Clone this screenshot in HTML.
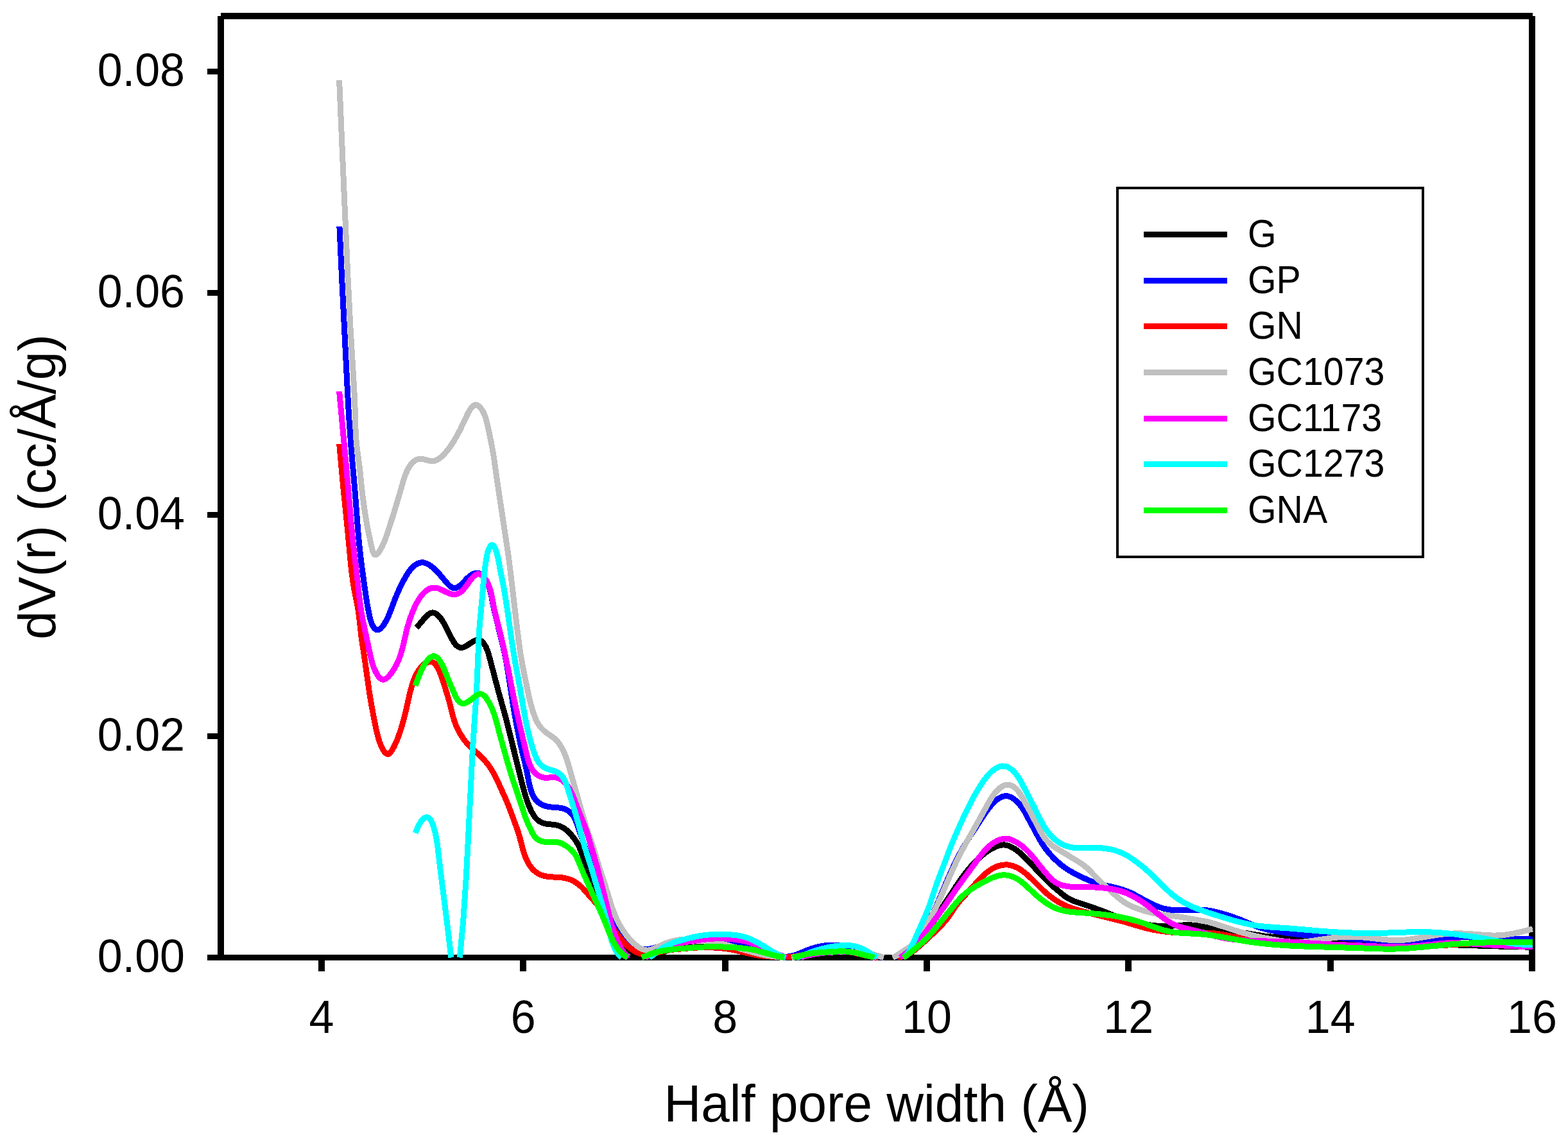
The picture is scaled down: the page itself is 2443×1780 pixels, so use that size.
<!DOCTYPE html>
<html lang="en">
<head>
<meta charset="utf-8">
<title>Pore size distribution</title>
<style>
html,body{margin:0;padding:0;background:#fff;}
body{width:2443px;height:1780px;overflow:hidden;}
svg{display:block;}
text{font-family:"Liberation Sans",Arial,Helvetica,sans-serif;fill:#000;}
.tick{font-size:70px;}
.leg{font-size:57.3px;}
.title{font-size:80px;}
</style>
</head>
<body>
<svg xmlns="http://www.w3.org/2000/svg" width="2443" height="1780" viewBox="0 0 2443 1780">
<defs><clipPath id="plotclip"><rect x="344" y="25" width="2060" height="1475"/></clipPath></defs>
<rect x="0" y="0" width="2443" height="1780" fill="#fff"/>
<g shape-rendering="crispEdges" fill="#000">
<rect x="344" y="20" width="2044" height="10"/>
<rect x="323" y="1488" width="2069" height="9"/>
<rect x="339" y="25" width="10" height="1472"/>
<rect x="2382" y="25" width="10" height="1489"/>
<rect x="323" y="1143" width="21" height="9"/>
<rect x="323" y="798" width="21" height="9"/>
<rect x="323" y="452" width="21" height="9"/>
<rect x="323" y="107" width="21" height="9"/>
<rect x="496" y="1497" width="10" height="17"/>
<rect x="810" y="1497" width="10" height="17"/>
<rect x="1125" y="1497" width="10" height="17"/>
<rect x="1439" y="1497" width="10" height="17"/>
<rect x="1753" y="1497" width="10" height="17"/>
<rect x="2068" y="1497" width="10" height="17"/>
</g>
<g clip-path="url(#plotclip)" fill="none" stroke-width="9" stroke-linejoin="round" stroke-linecap="butt" shape-rendering="crispEdges">
<path d="M648.9 978.4 661.5 963.6 664.3 960.6 666.6 958.5 669.2 956.5 671.6 955.4 674 954.9 676 955.1 678.7 956.2 681.4 958.1 684.5 961.2 687.5 964.9 690.4 969.4 693.9 975.5 703.4 994.5 706.2 999.6 708.2 1002.5 710.1 1004.8 712.1 1006.8 713.9 1008.1 715.9 1009 717.9 1009.4 720.1 1009.3 722.3 1008.7 724.6 1007.8 726.9 1006.6 735.1 1001.2 738.4 999.3 741.6 997.9 744.2 997.3 746.7 997.4 747.8 997.8 749.3 998.5 751.7 1000.5 754.1 1003.5 756.5 1007.3 758.4 1011.5 760.3 1016.4 762 1022.1 777.6 1081.4 788 1118.5 810.5 1209.3 816.2 1231.6 819.1 1241.7 821.9 1250.4 824.9 1258 827.8 1264.4 831.1 1270.1 834.2 1274.6 837.5 1278.1 840.9 1280.6 844.3 1282.3 847.9 1283.5 852.8 1284.4 862.3 1285.3 866.3 1286 871 1287.2 875.1 1288.9 879.7 1291.6 884 1295 888.6 1299.6 893.4 1305.4 896.7 1309.9 899.6 1314.6 902 1319 904.2 1324 908.3 1335.3 918 1366.4 924 1382.8 946.4 1437.5 951.4 1448.4 956.2 1457.3 960.3 1463.6 964.2 1468.7 968.3 1473 972.9 1476.7 977.9 1480.1 984.5 1483.6 996.8 1489.8 1000.5 1491.4 1003.7 1492.5M1018.1 1492.5 1022.4 1490.5 1031.9 1484.9 1036.3 1482.6 1041.8 1480.6 1048.1 1479.1 1058 1477.8 1082.1 1475.9 1096.6 1475.2 1111.6 1475 1126.6 1475.2 1140.1 1475.8 1152.6 1476.9 1164 1478.4 1171.9 1479.8 1179.2 1481.4 1186.4 1483.4 1207.1 1489.5 1214.4 1491.3 1220.6 1492.5M1251.8 1492.5 1261.1 1491.8 1271.1 1491.3 1296.6 1490.9 1317.6 1491.2 1343.9 1492.5M1407.7 1492.5 1410.6 1491.4 1413.2 1490 1416.1 1488.2 1418.8 1486.1 1421.3 1483.8 1424.1 1480.9 1429.5 1474.3 1433.6 1468.5 1440 1458.8 1474.3 1404.7 1489.7 1381.3 1496.2 1371.8 1502.1 1363.7 1507.6 1356.6 1513.1 1350.1 1520 1342.8 1526.9 1336.2 1533.4 1330.6 1540 1325.8 1546.6 1321.9 1552.7 1319.1 1557.9 1317.5 1560.8 1317.1 1563.2 1316.9 1565.6 1317 1568.5 1317.5 1571.3 1318.3 1574.5 1319.6 1577.6 1321.1 1581.1 1323.2 1584.4 1325.5 1588 1328.4 1593.3 1333.1 1599.5 1339.2 1623.4 1364.9 1634.3 1375.9 1642.9 1383.6 1654.4 1393.2 1659.5 1397.2 1664 1400.1 1668.9 1402.6 1674.8 1405.1 1697.6 1412.7 1711.3 1417.6 1721.6 1421.4 1740.2 1428.9 1748.1 1431.9 1754.3 1433.9 1761 1435.8 1768.3 1437.5 1776.7 1439.2 1786.6 1441 1795 1442.3 1802.5 1443.1 1809.4 1443.5 1820.9 1443.4 1847 1441.8 1853.4 1441.8 1858.9 1442.1 1867.3 1443.3 1893.9 1448.4 1907.7 1450.6 1940.5 1454.4 1963.7 1458.1 1972.1 1459.3 1983.5 1460.4 1999 1461.5 2029 1463.3 2049 1464.3 2137 1467.3 2271.9 1473 2321.9 1474.7 2387.9 1476.3" stroke="#000000"/>
<path d="M528.9 352.8 532.6 433.2 541.4 609.1 543.7 650.5 546.9 695.9 553.3 768.6 558.1 831.4 560.4 854.9 563.3 879.9 567.8 912.9 571.7 939.3 574.8 956 577.1 965.8 578.3 969.4 579.6 972.9 581.2 976 582.7 978.4 584.5 980.3 586 981.5 587.7 982 589.3 981.9 591.4 981 593.4 979.3 595.7 976.8 597.9 973.9 601.5 967.8 605.1 960.5 608.3 952.7 615 934.8 618.9 925.2 624.1 913.8 629.8 903 635.3 893.5 637.7 890.1 640.2 886.8 642.6 884.2 645.2 881.9 648 879.9 650.5 878.5 652.7 877.6 655 877 657.3 876.8 659.6 876.9 661.9 877.4 664.6 878.4 667.3 879.7 670.3 881.5 675.2 885.3 680.5 890.3 685.1 895.4 695.7 908 699.6 912.2 701.4 913.8 703.3 915.1 704.8 915.9 706.4 916.4 708.4 916.5 710.5 916.2 713 915.2 715.4 913.7 719.3 910.4 727.2 902.1 730.8 898.7 734.9 895.7 738.9 893.8 741.1 893.3 742.8 893.1 744.6 893.3 746.7 893.9 748.3 894.7 750.2 896.1 752 897.7 754.1 899.9 757 904.1 759.4 908.7 761.6 914 763.6 920.4 765.4 927.8 768.6 944.7 771.2 956.5 781.4 997.7 784.8 1012.3 787.6 1025.5 790.1 1038.8 800 1102.6 802.9 1119.3 806.3 1137.5 811.8 1163.9 819.7 1197 824.6 1222.2 826.5 1229.6 828.8 1236.3 831.6 1242.1 833.2 1244.6 835 1247 836.6 1248.7 838.8 1250.7 843.2 1253.6 848.2 1255.8 853.5 1257.2 859 1258 872.1 1259.1 876.1 1259.8 879.8 1261 883.8 1262.8 887.4 1265.2 890.5 1268.2 893.2 1271.7 896.1 1276.9 899.1 1284.3 908.5 1312 922.7 1351.5 936.5 1391.3 942.5 1407.2 948.2 1420.5 952.9 1430.4 958.2 1440.7 962.7 1448.5 967 1455.3 971.3 1460.9 975.7 1465.7 980.1 1469.8 985 1473.3 990.7 1476.5 993.9 1477.8 996.8 1478.7 999.7 1479.3 1002.6 1479.7 1005.5 1479.8 1008.5 1479.6 1013.4 1478.9 1018.8 1477.7 1037.1 1472.2 1047.8 1469.3 1057.1 1467.2 1065.9 1465.5 1076.8 1463.9 1086.8 1462.9 1096.3 1462.5 1105.3 1462.6 1113.2 1463.2 1121.2 1464.4 1129.5 1466 1141.7 1468.9 1151.3 1471.4 1160.9 1474.2 1201.1 1487 1210.4 1489.3 1218.8 1490.7 1223.2 1491.1 1227.7 1491 1231.6 1490.5 1235.4 1489.6 1242.5 1487.3 1257 1481.3 1263.6 1478.8 1269.8 1476.9 1275.6 1475.4 1281.5 1474.4 1287.5 1473.6 1294 1473.2 1300.5 1473.1 1307.5 1473.4 1314.4 1474.1 1321.3 1475.3 1327.7 1476.7 1336.3 1479.3 1358.4 1487.3 1374.2 1492.5M1393.1 1492.5 1396.1 1490.9 1400 1488.6 1421.6 1474 1424.2 1471.8 1426.6 1469.4 1429.2 1466.4 1431.5 1463.3 1435.5 1457 1441.2 1446.9 1448.1 1434.1 1455 1420.7 1461.4 1406.6 1475.8 1372 1484.2 1353.3 1489.8 1341.6 1495.1 1331.3 1500.3 1321.7 1505.7 1312.6 1513.1 1300.8 1532.5 1271 1538.3 1262.7 1543.7 1255.9 1549.7 1249.5 1552.8 1246.8 1555.6 1244.7 1558.6 1243 1561.3 1241.8 1564 1241 1566.8 1240.7 1569.1 1240.8 1571.9 1241.4 1574.6 1242.4 1577.7 1244.1 1580.6 1246.1 1583.3 1248.4 1586.2 1251.3 1588.9 1254.3 1592.6 1259.2 1596.4 1265.2 1620.9 1310.4 1624 1315.6 1627.6 1320.9 1634.4 1329.6 1641.8 1337.7 1649.9 1345.2 1654.1 1348.7 1658.5 1352 1666 1357 1673.9 1361.4 1685 1367 1695.5 1371.8 1702.5 1374.5 1709.2 1376.6 1715.9 1378.4 1739.3 1383.9 1747.5 1386.2 1754.6 1388.7 1761.1 1391.3 1766.9 1394.1 1785.3 1404.3 1795.1 1409.3 1804.3 1413.2 1812.4 1415.9 1816.7 1416.9 1821.2 1417.7 1826.1 1418.3 1831.1 1418.7 1843.6 1418.9 1864.1 1418.1 1870.6 1418 1878.6 1418.6 1887 1419.9 1893.8 1421.3 1901.6 1423.3 1910.8 1425.9 1919.3 1428.7 1931.5 1433.1 1949.1 1440.5 1956 1443.3 1964.1 1446.1 1972.2 1448.4 1983.4 1450.9 1997.3 1453.2 2018.6 1456 2036.5 1457.9 2070 1460.1 2101.3 1463.1 2119.3 1464.5 2144.7 1465.9 2172.7 1466.9 2186.2 1466.9 2200.2 1466.3 2214.7 1465 2249 1461.5 2259 1460.8 2268.5 1460.5 2277.5 1460.5 2287 1460.9 2318.9 1462.9 2330.9 1463.5 2342.4 1463.6 2371.4 1463.6 2387.9 1464.1" stroke="#0000FF"/>
<path d="M528.7 691.8 534.7 758.6 541.9 829.2 546.2 876.1 548.2 894 549.7 905.4 551.3 915.7 556.7 942.7 558.4 953 559.7 963 563.3 995.3 568.7 1030.9 575.1 1076.5 577.6 1092.3 580.3 1107.4 586.2 1137.1 588.6 1147.2 591 1155.5 594.2 1163.3 595.9 1166.9 597.5 1169.7 599.2 1172.2 600.7 1173.8 602.8 1175.2 604.5 1175.5 605.4 1175.2 606.6 1174.6 608.6 1172.7 611.1 1169 613.7 1164.2 617 1157.3 619.9 1150.3 624.4 1137.5 628.7 1122.8 632.4 1107.8 638.4 1081.2 641.1 1071 642.9 1065.1 644.8 1059.8 646.8 1054.9 648.9 1050.6 651.5 1046 654.6 1041.7 657.7 1038.2 661.2 1035.1 664.6 1033 668.1 1031.6 671 1031.3 672.2 1031.4 673.8 1031.9 675.3 1032.8 677 1034.1 678.6 1035.9 680.1 1037.8 683.2 1043.1 685.9 1049.4 692.6 1069.3 697.6 1085.1 700.5 1095.6 705.2 1114.6 707.6 1122.7 710.8 1131.6 712.7 1135.7 715 1140.2 718 1145.3 721.6 1150.8 725.2 1155.6 728.7 1159.8 734.6 1165.9 745.5 1175.5 749.9 1179.6 754.3 1184.3 758.5 1189.3 762.7 1194.9 766.7 1201.2 770.4 1207.7 774.3 1215.3 787.1 1243.6 792.9 1257.4 804.2 1287.9 807.2 1296.4 809.6 1304.5 814.6 1323.9 817.4 1332.6 819.2 1337.3 821.3 1341.9 823.4 1345.9 825.6 1349.3 829.2 1354 833.5 1358.1 835.8 1359.9 838.3 1361.5 843.2 1363.9 847.9 1365.3 853.2 1366.3 858.2 1366.8 873.4 1367.6 878.4 1368.3 883.2 1369.3 888.4 1370.9 892.9 1373 897.6 1375.7 902 1379 905.8 1382.3 909.3 1385.9 920.5 1398.7 930.3 1409.4 934.5 1414.3 937.7 1418.8 941 1423.8 949.8 1438.9 953.5 1444.8 959.6 1453.3 968 1464 972.6 1469.4 976.8 1473.7 980.9 1477.3 985.3 1480.6 988.3 1482.4 991.4 1484.1 997.5 1486.5 1000.3 1487.3 1003.2 1487.9 1006.2 1488.2 1009.1 1488.2 1012.6 1487.9 1016.5 1487.1 1030.5 1483.4 1035.9 1482.2 1042.3 1481 1049.2 1480.1 1068.7 1478.2 1084.2 1477.1 1095.7 1476.6 1106.7 1476.7 1120.6 1477.5 1134.1 1479.1 1145.9 1481.3 1169.2 1486.7 1179 1488.7 1190.4 1490.3 1203.4 1491.3 1218.4 1491.9 1224.4 1491.8 1230.4 1491.5 1239.8 1490.5 1256.1 1487.7 1266 1486.4 1300.4 1483.6 1312.4 1483.1 1319.9 1483.5 1327.3 1484.4 1333.2 1485.6 1350.1 1489.6 1368.8 1492.5M1398.8 1492.5 1406.8 1490.3 1411.9 1488.5 1417.3 1485.9 1422.3 1482.8 1427.5 1478.9 1434.3 1473 1457.6 1451.5 1466.8 1442.3 1474.3 1433.7 1479.1 1427.3 1489.7 1411.6 1493.3 1406.8 1497.8 1401.5 1525.3 1371.5 1530.2 1366.5 1535 1362.1 1538.9 1358.9 1543 1355.9 1546.9 1353.6 1550.9 1351.6 1554.6 1350.1 1558.5 1348.9 1562.4 1348.2 1566.3 1347.9 1569.3 1347.9 1572.2 1348.2 1575.1 1348.8 1578.5 1349.8 1584.5 1352.3 1587.5 1353.9 1590.9 1356.1 1596.6 1360.3 1602.7 1365.5 1608.6 1371.1 1624.9 1387.4 1630.1 1392.1 1635.1 1396.3 1641.5 1401.1 1647.8 1405.1 1654.3 1408.8 1661.1 1412 1667.1 1414.4 1673.7 1416.7 1691 1421.7 1743 1434.5 1753.6 1437.4 1775.2 1443.9 1784.3 1446.4 1796.5 1449.2 1808.4 1451.2 1822.8 1452.9 1838.8 1454 1851.3 1454.3 1877.8 1454.2 1885.3 1454.5 1892.2 1455 1899.2 1455.8 1907.1 1457 1937.1 1462.7 1951.4 1465.2 1964.2 1467.1 1977.1 1468.8 1994.6 1470.5 2013 1472 2033 1473 2055.5 1473.9 2146 1476.1 2168.5 1476.4 2188 1476.3 2204 1475.9 2221.5 1475.1 2283.9 1471.3 2309.4 1470.1 2342.4 1469.3 2387.9 1469" stroke="#FF0000"/>
<path d="M528.6 125 536.1 300.4 541.8 428.3 546 511.2 551.9 609.5 552.9 631 553.9 667.1 554.8 683.5 556.3 699 560.3 728.7 564.4 768.5 568.5 798.1 571.4 816.3 574.6 832.4 579.4 854.5 580.7 859.2 581.9 862.1 583.3 864.1 584.1 864.8 584.8 864.9 586.4 864.5 588.3 862.9 590.7 859.9 593.5 855.4 596 850.5 598.6 844.9 602.8 833.5 612.6 803 621.4 773.8 627.9 751.1 630 744.4 632.1 738.7 634.4 733.5 636.8 728.9 639.6 724.6 642.1 721.5 645 718.9 648.2 716.9 651.3 715.7 654 715.3 657.4 715.4 660.8 716 669.7 718.3 672.6 718.7 675 718.7 677.7 718.1 680.8 716.9 683.8 715.1 687 712.7 691.8 708.1 696.8 702.3 702 695.4 707.2 687.4 712.2 678.8 717.1 669.5 729.4 643.6 732 639.1 734.5 635.4 736 633.6 737.6 632.2 739.3 631.2 740.7 630.9 742.1 631 743.9 631.6 745.7 632.7 747.4 634.2 750.2 637.7 752.9 642.2 755.3 647.6 757.3 653.6 758.8 659.1 760.3 665.7 765.1 688.4 767.6 702.1 769.7 714.9 775 752.1 792.3 867.3 794.7 886.2 806.5 986 810.2 1013.8 812.4 1027.6 814.8 1040.4 823.6 1083.5 827 1097.6 830.1 1108.3 833.4 1117.8 836.1 1124.2 839.4 1129.7 843 1134.4 847.5 1138.9 851.8 1142.4 862.8 1150.2 865.8 1152.8 868.5 1155.6 871.8 1159.9 874.7 1164.5 877.5 1169.8 880.1 1175.8 882.9 1183.3 885.9 1192.9 906.8 1266.6 911.6 1282.9 915.2 1293.9 924.8 1322.3 933.5 1351 943.3 1380.9 951.6 1408.2 954.8 1417.7 958.3 1426.6 961.7 1434.3 965.4 1441.5 970 1449.2 974.8 1456.2 979.8 1462.5 985 1468.1 990.4 1472.9 995.3 1476.5 998 1478 1000.7 1479.3 1002.9 1480.1 1005.3 1480.7 1007.6 1481 1010 1481 1012.8 1480.6 1015.6 1479.8 1020.8 1477.8 1031.4 1472.7 1036.5 1470.5 1043.2 1468.2 1050.4 1466.2 1057.3 1465 1064.8 1464.2 1072.2 1463.9 1080.2 1464.2 1088.2 1464.8 1096.7 1465.8 1105.6 1467.2 1114.5 1468.8 1124.7 1471.1 1135.9 1473.9 1171 1483.8 1184.1 1487.1 1191 1488.6 1198.4 1489.8 1219.3 1492.5M1233.2 1492.5 1254.9 1488.2 1269.2 1486.1 1280.2 1485.1 1293.7 1484.2 1304.2 1483.7 1314.2 1483.5 1323.7 1483.7 1333.7 1484.2 1344.7 1485 1352.1 1485.8 1357.5 1486.8 1362.4 1488 1376.9 1492.5M1390.9 1492.5 1394.1 1491.1 1398 1488.8 1421.9 1473.1 1424.5 1470.9 1427.3 1468.2 1429.8 1465.2 1432.3 1461.6 1436.5 1454.8 1442.5 1444.3 1453.7 1423.6 1458.3 1414.7 1464.6 1401 1476.4 1373.4 1483.2 1357.9 1490.2 1342.9 1496.8 1329.5 1504.1 1315.8 1522.1 1284 1541 1249.7 1544.7 1243.5 1548.2 1238.5 1551.7 1234.1 1555.3 1230.5 1558.8 1227.6 1562.6 1225.2 1566.1 1223.8 1569.3 1223.3 1571.6 1223.4 1573.9 1223.8 1576.1 1224.6 1578.7 1225.9 1581.1 1227.6 1583.3 1229.6 1585.4 1231.8 1587.6 1234.6 1589.9 1238 1592.3 1242.1 1600.3 1256.9 1607.2 1269 1618.8 1291.7 1623 1299.2 1625.9 1303.8 1628.5 1307.4 1631.4 1310.8 1634.6 1313.9 1639.2 1317.7 1644.5 1321.4 1678 1341.7 1684.7 1346 1690.3 1350.2 1693.8 1353 1697 1356.1 1709.7 1369.5 1718.4 1377.8 1739.2 1396.6 1745 1401.4 1750.2 1405.3 1756.9 1409.5 1765 1413.4 1775.8 1417.5 1787.3 1421 1794.5 1422.8 1801.9 1424.2 1839.6 1429.3 1877.5 1436 1883.8 1437.4 1891 1439.4 1929.6 1451.9 1941.1 1455.2 1952.3 1458.1 1968.4 1461.6 1991.5 1465.8 2003.4 1467.5 2014.4 1468.4 2023.9 1468.5 2032.9 1467.9 2041.8 1466.8 2064.6 1463.3 2076 1461.8 2087.4 1460.6 2097.4 1460 2107.9 1460 2118.9 1460.5 2129.8 1461.5 2160.2 1464.9 2169.2 1465.5 2177.7 1465.7 2186.2 1465.3 2195.6 1464.3 2205.5 1462.9 2238.6 1457.3 2249.5 1455.9 2259.5 1455.1 2269 1454.9 2279 1455 2290.4 1455.7 2319.4 1457.9 2327.9 1458.1 2335.4 1457.9 2345.8 1457 2357.2 1455.2 2368.9 1452.7 2387.9 1448" stroke="#C0C0C0"/>
<path d="M528.6 610.1 540.5 738.6 548.6 832.3 550.6 851.1 555.8 894.3 560.8 939.1 562.8 952.9 565.2 966.2 575.9 1016.5 578.6 1028.2 580.6 1035.4 582.8 1041.9 585.3 1047.2 588.5 1052.7 590 1054.8 591.7 1056.5 593.4 1057.9 594.8 1058.7 596.6 1059.3 598 1059.2 599.5 1058.8 601.3 1057.9 603.1 1056.5 604.9 1054.9 609.3 1049.7 613.8 1043.1 616.7 1038.1 619.5 1032.4 622.2 1026.1 624.4 1019.7 627.7 1008 632.7 986.1 635.4 975.5 638.8 964.5 642.6 954.2 647.1 944 649.4 939.5 652 935.1 654.5 931.2 657.3 927.5 660 924.4 662.6 922 666.5 919 670.4 917.1 674.1 916.1 677.8 916 681.6 916.7 685.4 918 697.6 924 702.3 925.8 704.6 926.4 706.9 926.7 708.8 926.6 711.1 926.2 713.7 925.3 716.2 924 718.6 922.3 720.8 920.2 725.3 915 732.3 905.2 734.9 901.8 738.1 898.4 741 896.1 742.6 895.4 744.1 894.9 745.7 894.8 747.3 895.1 748.9 895.7 750.8 896.9 752.6 898.4 754.3 900.1 757.4 904.3 760.4 909.9 762.9 916.2 764.9 923.2 766.3 929.7 769.3 945.7 771.4 955.5 781.8 997.1 785.8 1014.7 791.2 1040.7 801 1090.2 808.3 1123.9 821.4 1179.3 823.1 1185.3 824.9 1190.6 827.5 1196.5 830.4 1201.1 834 1205.2 837.8 1208.2 840.3 1209.7 842.5 1210.7 844.8 1211.5 847.2 1212 851.6 1212.3 860.6 1211.6 864.1 1211.6 868.4 1212.3 872 1213.7 874.1 1214.9 876.5 1216.6 878.7 1218.5 881.1 1221 883.3 1223.7 885.4 1226.6 889.2 1233.2 893.4 1242.4 901.1 1263.1 910.5 1286.3 913.4 1294.3 916.2 1302.8 930.9 1353.2 943.1 1401.7 950.8 1433.3 953.7 1443.9 956.7 1453.4 959.2 1460 961.9 1466.6 965.1 1473.1 968.1 1478.7 970.9 1483.1 973.7 1486.7 976.8 1490 979.9 1492.5M1005.3 1492.5 1021.4 1483.6 1030 1479.5 1035.6 1477.2 1040.7 1475.3 1052.2 1471.9 1060 1470.1 1068.4 1468.5 1089.7 1465.2 1098.6 1464.1 1107.1 1463.3 1114.6 1462.9 1122.1 1462.7 1133.1 1463.1 1145 1464.3 1156.4 1466.1 1165.6 1468.3 1170.9 1469.9 1176.9 1472.2 1205.8 1484.9 1215.1 1488.6 1225.4 1492.5M1247.6 1492.5 1254 1490.5 1259.8 1489 1265.6 1487.7 1272 1486.6 1281.5 1485.4 1297.4 1483.7 1304.9 1483.1 1311.9 1482.9 1320.9 1483.4 1329.8 1484.6 1335.6 1485.9 1348.2 1489 1364.1 1492.5M1402.3 1492.5 1405.7 1490.4 1409.3 1487.7 1413.1 1484.5 1419 1479 1429.6 1468.3 1434.2 1463 1438.4 1458 1443.8 1450.9 1456.9 1432.6 1470 1414.9 1489.2 1386.8 1496.1 1377 1512.4 1354.9 1525.9 1336.1 1529.9 1330.9 1533.8 1326.3 1538 1321.9 1542.1 1318.1 1546.1 1315 1550.3 1312.2 1554.3 1310.1 1558.5 1308.5 1562.3 1307.5 1566.2 1307.1 1569.1 1307.2 1572.4 1307.8 1575.7 1308.9 1578.9 1310.3 1583 1312.4 1587.3 1315.1 1591.5 1318 1595.4 1321.1 1600.9 1326.3 1606.7 1332.5 1611.5 1338.4 1625.5 1356.2 1634.5 1366.4 1638.3 1370.3 1641.7 1373.2 1645.3 1375.7 1648.7 1377.6 1652.8 1379.2 1657.1 1380.4 1662 1381.4 1666.9 1382 1677 1382.5 1705.6 1383 1715.1 1383.6 1723.5 1384.4 1730.5 1385.4 1736.9 1386.6 1742.7 1388 1748.4 1389.7 1755 1392.1 1761.8 1395.3 1769.3 1399.3 1776.5 1403.7 1782.8 1407.9 1789.3 1412.6 1808.1 1427.5 1814.5 1432.3 1821.6 1437 1828.6 1440.8 1835.5 1443.6 1843.1 1446 1865 1451.4 1891 1458.6 1901.7 1461.1 1910.6 1462.7 1920 1464.1 1930.5 1465.1 1941.4 1465.9 1957.4 1466.6 2004.9 1467.8 2073.8 1472 2161.8 1475.7 2179.8 1475.9 2196.7 1475.3 2215.2 1473.8 2248 1470.3 2256 1469.8 2263.5 1469.7 2271.5 1469.8 2281 1470.2 2323.9 1473 2346.4 1474.2 2365.4 1475 2387.9 1475.7" stroke="#FF00FF"/>
<path d="M647.2 1298.4 651.5 1288.2 653.4 1284.4 655.3 1281.3 657.4 1278.4 659.4 1276.3 661.5 1274.8 663.3 1274 665.1 1273.7 666.8 1274.1 668.5 1275.2 670.2 1277 671.8 1279.3 673.4 1282.4 674.7 1285.9 676 1290.1 677.8 1297 679.3 1303.7 680.7 1311.3 681.9 1319.8 685.9 1354 698.1 1451.2 702.9 1492.5M716.4 1492.5 721.8 1434.6 726.1 1370.8 729.6 1304.9 736 1175.5 737.7 1147.5 741.3 1094.7 742.7 1072.2 743.9 1045.2 745.8 998.7 747.2 974.8 750.8 937.4 753.5 904.3 755.3 888.2 757.4 872.3 759.2 863 760.2 859.4 761.4 856.1 762.8 853.1 764.1 851 765.5 849.7 766.7 849.4 767.9 849.8 769.1 850.9 770.5 853 771.8 855.5 773 858.7 774.1 862.2 776.2 870.9 779.3 887.7 784.2 912.3 786.6 925.9 790.1 948.1 797.1 997.8 800.5 1019.5 802.9 1033.8 810 1071.6 816.7 1110.1 819.9 1126.8 822.9 1140.4 826.1 1153.1 829.8 1165.7 833.2 1175.8 835.9 1182.4 838.8 1187.5 840.5 1189.8 842.1 1191.6 843.8 1193.2 846.1 1195 850.3 1197.4 854.4 1199 864.8 1202.1 867.8 1203.5 870.7 1205.2 874 1207.9 876.4 1210.7 878.7 1214.4 880.9 1218.8 883.7 1226.5 895.9 1265.6 901 1283.4 910.5 1318.6 922 1354.9 940 1416.3 944.8 1433.6 950.5 1457 953.1 1466.3 956.3 1474.9 958 1478.6 959.9 1482.2 961.8 1485.1 963.9 1487.9 966.2 1490.5 968.4 1492.5M1011.6 1492.5 1016.8 1489 1028.4 1480.2 1034.3 1476.4 1038.6 1474 1043.2 1471.9 1048.2 1469.9 1053.5 1468 1062.1 1465.4 1072.3 1462.6 1081.1 1460.5 1089.4 1458.9 1096.8 1457.7 1104.8 1456.9 1112.8 1456.4 1120.8 1456.2 1134.8 1456.6 1146.3 1457.6 1151.3 1458.4 1156.1 1459.3 1160.5 1460.5 1164.7 1461.9 1172.1 1464.9 1180.2 1468.9 1187.1 1473 1202.5 1482.6 1210.4 1487 1217.7 1490.4 1224.1 1492.5M1241.3 1492.5 1247.9 1490.3 1260.6 1485.2 1266.8 1482.9 1274.4 1480.5 1282.2 1478.4 1291.5 1476.4 1300.8 1474.8 1309.8 1473.8 1317.8 1473.5 1323.8 1473.7 1329.7 1474.4 1335.1 1475.6 1339.8 1477.1 1344.3 1479.1 1349.2 1481.7 1367 1492.5M1408.8 1492.5 1411.4 1489.9 1413.8 1486.8 1416.1 1482.9 1419.2 1477.1 1425.7 1463.4 1442.7 1424.9 1445.8 1417.5 1448.5 1410 1457 1384.4 1460.7 1374 1481.2 1319.7 1487.9 1303.6 1497.4 1282.1 1504.8 1266.2 1511.7 1252.3 1519.2 1238.2 1526.4 1226.1 1532.8 1216.5 1539.2 1208.5 1542.3 1205.1 1545.3 1202.3 1548.4 1199.8 1551.3 1197.8 1554.4 1196.1 1557.1 1195 1559.9 1194.3 1562.7 1194 1565.5 1194.2 1568.3 1194.9 1570.9 1196 1573.9 1197.8 1576.7 1199.9 1579.7 1202.7 1582.4 1205.8 1584.9 1209 1588.3 1214.1 1592 1220.7 1610.7 1256.9 1621.6 1278.9 1626.9 1288.5 1631.7 1295.6 1636.7 1301.9 1642 1307.2 1647.5 1311.6 1652.5 1314.8 1657.9 1317.4 1663.5 1319.4 1669.3 1320.7 1674.7 1321.5 1681.2 1321.9 1708.4 1321.6 1715.4 1321.8 1721.9 1322.4 1729.3 1323.6 1736.5 1325.3 1743.2 1327.5 1749.6 1330.2 1756.3 1333.6 1763.4 1338.2 1771.6 1344.1 1780.6 1351.2 1788.6 1358.1 1796 1364.8 1815.8 1384.6 1821.6 1390.1 1828 1395.6 1834.4 1400.4 1839 1403.5 1844.1 1406.6 1854.4 1411.8 1865.9 1416.7 1881.9 1422.4 1895.2 1426.7 1911.5 1431.7 1923.5 1435.2 1934.2 1438 1943.5 1440.1 1952.3 1441.9 1960.7 1443.1 1969.6 1444.1 1980.6 1445.1 2010.5 1447.1 2064.3 1451.8 2085.3 1453.1 2105.8 1454 2125.3 1454.5 2144.3 1454.4 2162.8 1454 2196.8 1452.8 2211.3 1452.6 2225.8 1452.8 2240.3 1453.5 2251.2 1454.4 2262.2 1455.5 2289.4 1459.2 2307.2 1462 2344.1 1468.7 2357.5 1470.8 2364.4 1471.5 2370.9 1472 2387.9 1472.5" stroke="#00FFFF"/>
<path d="M647.1 1068.9 651.8 1056.2 655.6 1047.1 659.1 1039.8 662.3 1034.3 666 1029.2 668.1 1026.9 669.9 1025.2 671.8 1023.9 673.3 1023.2 675.2 1022.7 676.6 1022.8 678.1 1023.2 679.5 1023.9 682.3 1026.3 685.1 1029.7 688.1 1034.6 691.8 1042.1 699.7 1062.3 709.2 1084 711.1 1087.7 712.9 1090.7 714.7 1093 716.6 1094.9 718.8 1096.2 720.7 1096.6 723.2 1096.5 725.8 1095.6 728 1094.5 730.7 1092.8 741.7 1084.4 744.8 1082.7 747.3 1081.8 749.7 1081.7 751.9 1082.5 754.4 1084.2 756.6 1086.7 760.1 1091.9 763.8 1098.4 767.1 1105.7 770.1 1113.5 773.3 1124.2 779.9 1149.3 790.8 1188.3 797.8 1211.8 810.3 1248.8 818.7 1274.4 823.5 1286.2 829.3 1298.1 831.8 1302.4 834.2 1305.4 837 1307.9 840.2 1309.9 843.7 1311.3 848 1312.1 853.1 1312.4 861.6 1312.2 865.1 1312.2 869 1312.8 873.3 1314 876 1315.2 879.1 1316.8 885 1320.7 890.3 1325.3 894.6 1330 897.6 1334.5 900.4 1340.3 909.7 1363.1 937 1423.8 942.7 1437.2 950.4 1456.7 954.9 1466.4 957.3 1470.9 960 1475.3 962.7 1479.2 965.7 1482.8 968.5 1485.8 971.6 1488.5 974.8 1490.8 977.7 1492.5M999.9 1492.5 1013 1487.3 1019.7 1485 1028.4 1482.7 1038.3 1481 1052.7 1479.3 1082.1 1476.8 1096.6 1476 1111.6 1475.8 1127.1 1476 1141.1 1476.6 1154.1 1477.7 1166 1479.1 1172.4 1480.2 1178.7 1481.6 1206.8 1489.3 1215.6 1491.3 1222.1 1492.5M1234.9 1492.5 1241.1 1491.2 1255.1 1487.5 1264 1486 1272.5 1485.1 1300.5 1483.2 1312 1482.7 1321.4 1483.2 1330.3 1484.5 1336.2 1485.8 1349.2 1489.3 1362.3 1492.5M1407 1492.5 1410.3 1490.8 1413.2 1488.9 1420 1483.7 1434.8 1470.8 1444.6 1461.4 1450 1455.6 1455.9 1448.7 1491.3 1405.3 1497.8 1398.3 1504 1392.6 1510.4 1387.8 1517.9 1382.9 1528.4 1376.8 1537.8 1371.9 1546.1 1368.2 1552.3 1365.9 1558.1 1364.4 1563.4 1363.8 1568.8 1364.1 1574.6 1365.4 1580.2 1367.5 1585.5 1370.4 1590.1 1373.5 1595.3 1377.6 1616 1396.7 1621.4 1401.2 1626.1 1404.8 1631.9 1408.8 1638 1412.3 1643.8 1415.2 1649.9 1417.5 1658 1419.7 1666.4 1421.2 1676.4 1422.1 1700.9 1423.7 1713.8 1424.9 1731.7 1427 1745 1429.2 1758.7 1432.3 1772.2 1436 1784.1 1439.9 1805.3 1447.4 1812.9 1449.8 1822.2 1452 1831 1453.4 1842 1454.4 1866 1455.5 1881.4 1457 1899.2 1459.6 1930.7 1465.4 1946 1467.9 1965.9 1470.5 1985.3 1472.4 2007.2 1473.9 2034.2 1475.1 2116.7 1477.7 2152.7 1479 2171.7 1479.1 2188.7 1478.5 2203.7 1477.3 2260.4 1471.9 2279.9 1470.5 2299.9 1469.5 2321.4 1468.8 2341.4 1468.4 2360.9 1468.5 2387.9 1468.9" stroke="#00FF00"/>
</g>
<text class="tick" transform="translate(288.0 1515.1) scale(1 1.03)" text-anchor="end">0.00</text>
<text class="tick" transform="translate(288.0 1169.8) scale(1 1.03)" text-anchor="end">0.02</text>
<text class="tick" transform="translate(288.0 824.6) scale(1 1.03)" text-anchor="end">0.04</text>
<text class="tick" transform="translate(288.0 479.4) scale(1 1.03)" text-anchor="end">0.06</text>
<text class="tick" transform="translate(288.0 134.1) scale(1 1.03)" text-anchor="end">0.08</text>
<text class="tick" transform="translate(501.0 1609.5) scale(1 1.03)" text-anchor="middle">4</text>
<text class="tick" transform="translate(815.3 1609.5) scale(1 1.03)" text-anchor="middle">6</text>
<text class="tick" transform="translate(1129.7 1609.5) scale(1 1.03)" text-anchor="middle">8</text>
<text class="tick" transform="translate(1444.0 1609.5) scale(1 1.03)" text-anchor="middle">10</text>
<text class="tick" transform="translate(1758.3 1609.5) scale(1 1.03)" text-anchor="middle">12</text>
<text class="tick" transform="translate(2072.7 1609.5) scale(1 1.03)" text-anchor="middle">14</text>
<text class="tick" transform="translate(2387.0 1609.5) scale(1 1.03)" text-anchor="middle">16</text>
<text class="title" transform="translate(1365.7 1747.5) scale(1 1.01)" text-anchor="middle">Half pore width (Å)</text>
<text class="title" transform="translate(86.0 759.0) rotate(-90) scale(1 1.01)" text-anchor="middle">dV(r) (cc/Å/g)</text>
<rect x="1741" y="293" width="476" height="575" fill="#fff" stroke="#000" stroke-width="4" shape-rendering="crispEdges"/>
<g shape-rendering="crispEdges">
<rect x="1782" y="361" width="130" height="9" fill="#000000"/>
<rect x="1782" y="433" width="130" height="9" fill="#0000FF"/>
<rect x="1782" y="504" width="130" height="9" fill="#FF0000"/>
<rect x="1782" y="576" width="130" height="9" fill="#C0C0C0"/>
<rect x="1782" y="648" width="130" height="9" fill="#FF00FF"/>
<rect x="1782" y="719" width="130" height="9" fill="#00FFFF"/>
<rect x="1782" y="791" width="130" height="9" fill="#00FF00"/>
</g>
<text class="leg" transform="translate(1944.0 384.8) scale(1 1.05)">G</text>
<text class="leg" transform="translate(1944.0 456.5) scale(1 1.05)">GP</text>
<text class="leg" transform="translate(1944.0 528.2) scale(1 1.05)">GN</text>
<text class="leg" transform="translate(1944.0 600.0) scale(1 1.05)">GC1073</text>
<text class="leg" transform="translate(1944.0 671.7) scale(1 1.05)">GC1173</text>
<text class="leg" transform="translate(1944.0 743.4) scale(1 1.05)">GC1273</text>
<text class="leg" transform="translate(1944.0 815.1) scale(1 1.05)">GNA</text>
</svg>
</body>
</html>
